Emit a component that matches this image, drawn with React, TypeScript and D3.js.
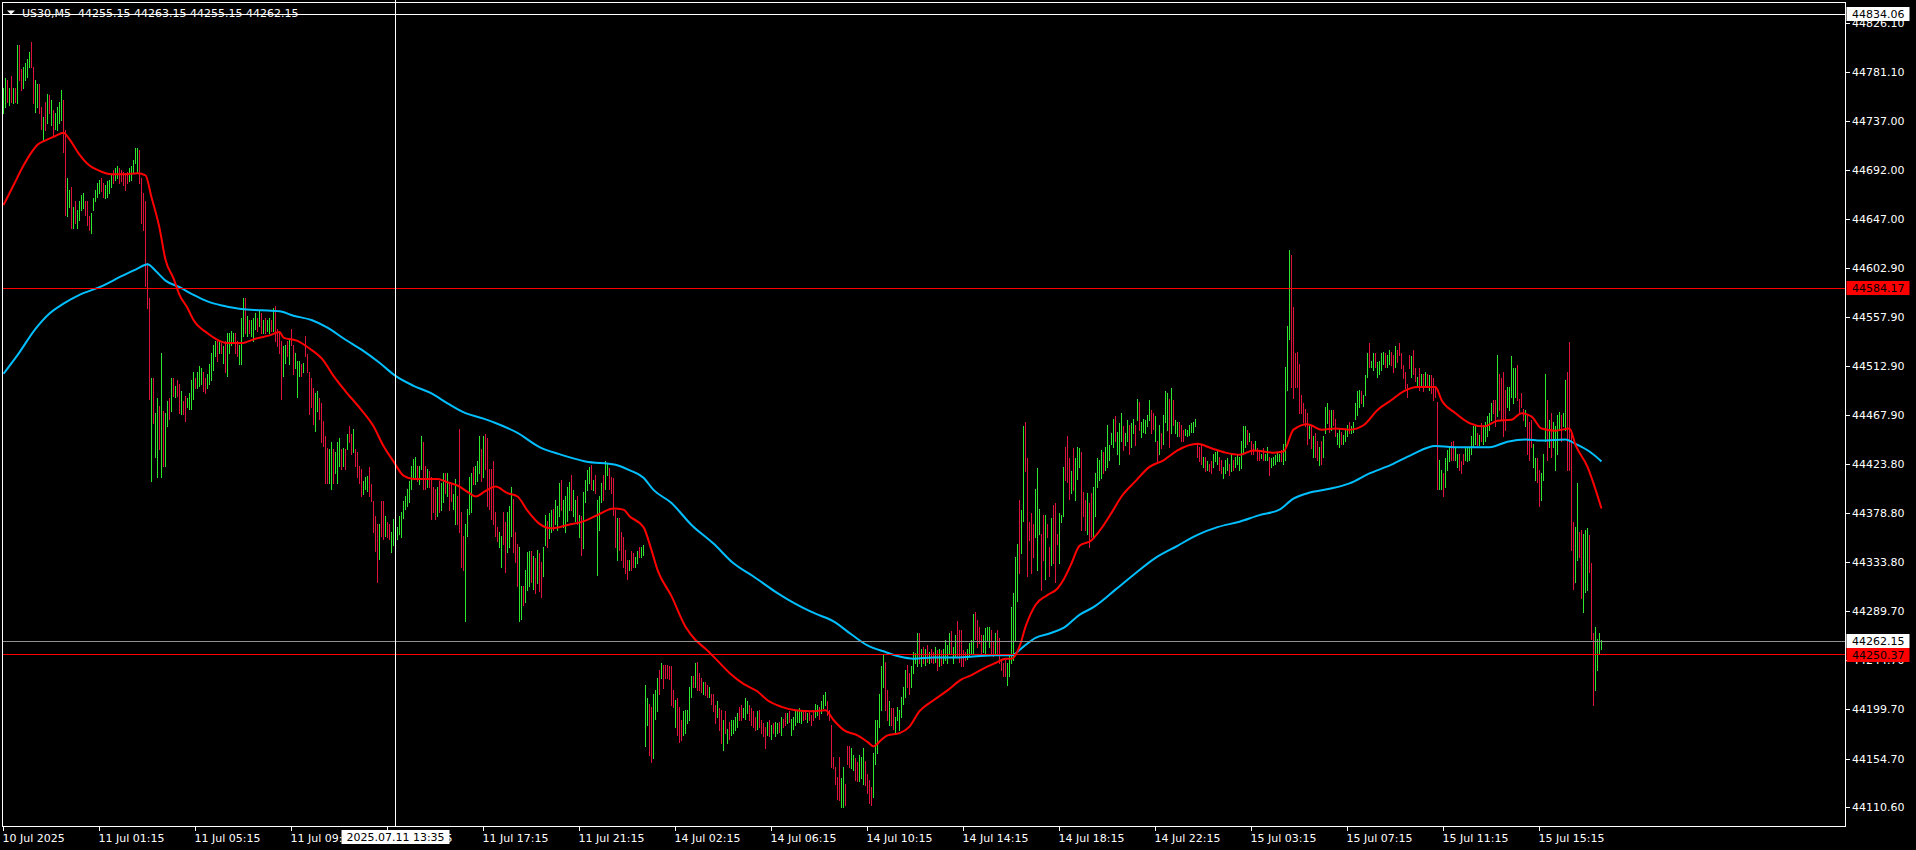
import React from 'react';
import * as d3 from 'd3';

// ---- Bar data (US30, M5), one entry per bar ----
const highs = [
44767,44776,44774,44767,44778,44767,44767,44806,44806,44784,
44786,44790,44793,44800,44809,44786,44774,44770,44770,44749,
44740,44754,44761,44760,44756,44747,44744,44749,44754,44765,
44756,44728,44685,44674,44676,44658,44664,44655,44664,44669,
44671,44664,44664,44650,44653,44666,44674,44680,44683,44685,
44680,44678,44682,44683,44687,44692,44694,44696,44694,44692,
44690,44689,44690,44694,44696,44701,44712,44712,44710,44685,
44671,44664,44607,44575,44502,44502,44470,44484,44477,44525,
44472,44470,44481,44484,44502,44502,44495,44500,44497,44490,
44481,44486,44484,44488,44500,44508,44502,44508,44513,44511,
44508,44502,44506,44515,44525,44532,44536,44536,44536,44534,
44531,44536,44543,44543,44545,44543,44543,44536,44532,44557,
44575,44575,44559,44555,44555,44557,44561,44557,44564,44561,
44555,44557,44555,44557,44555,44566,44568,44547,44543,44536,
44531,44532,44536,44538,44547,44532,44525,44518,44518,44515,
44516,44540,44524,44508,44502,44493,44488,44490,44484,44479,
44463,44449,44438,44437,44444,44437,44435,44444,44447,44437,
44438,44437,44451,44458,44451,44456,44437,44435,44422,44419,
44408,44412,44413,44421,44405,44390,44376,44369,44369,44390,
44390,44376,44371,44369,44362,44373,44371,44366,44376,44380,
44390,44394,44401,44408,44422,44428,44430,44422,44422,44449,
44444,44422,44419,44417,44412,44403,44401,44403,44408,44406,
44415,44415,44415,44405,44405,44396,44410,44394,44456,44380,
44358,44369,44383,44412,44415,44421,44422,44426,44449,44437,
44449,44451,44447,44419,44419,44426,44380,44366,44362,44358,
44380,44371,44380,44385,44403,44392,44362,44351,44348,44312,
44312,44327,44343,44344,44344,44340,44338,44345,44342,44334,
44348,44377,44372,44379,44382,44383,44391,44385,44406,44409,
44391,44394,44403,44407,44414,44400,44391,44394,44377,44376,
44398,44409,44418,44421,44423,44409,44414,44391,44394,44406,
44414,44426,44424,44420,44412,44411,44382,44374,44374,44362,
44357,44345,44336,44336,44344,44342,44339,44344,44348,44348,
44350,44222,44210,44205,44202,44214,44217,44228,44236,44242,
44240,44240,44240,44239,44239,44217,44208,44210,44202,44190,
44198,44199,44199,44220,44230,44230,44242,44243,44233,44228,
44225,44225,44222,44220,44214,44214,44204,44207,44201,44199,
44190,44198,44182,44188,44190,44190,44193,44196,44202,44204,
44201,44210,44207,44204,44201,44198,44193,44198,44199,44190,
44187,44184,44188,44190,44185,44187,44188,44187,44188,44193,
44191,44196,44196,44198,44191,44193,44198,44198,44201,44198,
44198,44199,44196,44198,44195,44199,44205,44204,44202,44207,
44213,44216,44207,44199,44185,44156,44147,44138,44156,44137,
44147,44132,44166,44166,44164,44158,44155,44152,44158,44156,
44164,44153,44141,44135,44129,44160,44190,44190,44214,44239,
44249,44243,44217,44207,44201,44201,44193,44202,44199,44211,
44220,44236,44240,44233,44239,44252,44251,44269,44269,44255,
44257,44255,44258,44252,44255,44252,44257,44254,44255,44254,
44255,44263,44258,44269,44271,44257,44268,44280,44272,44272,
44254,44252,44255,44260,44263,44287,44289,44281,44275,44268,
44268,44274,44275,44275,44272,44261,44269,44272,44265,44245,
44242,44245,44242,44248,44293,44306,44339,44351,44391,44382,
44458,44462,44429,44371,44379,44369,44401,44420,44383,44360,
44377,44377,44369,44348,44374,44386,44388,44360,44379,44377,
44421,44439,44449,44429,44417,44438,44429,44439,44438,44435,
44398,44391,44397,44388,44397,44403,44415,44429,44427,44436,
44435,44439,44459,44441,44452,44465,44467,44453,44461,44470,
44458,44452,44464,44459,44461,44465,44459,44483,44480,44462,
44465,44464,44468,44482,44473,44470,44467,44445,44459,44452,
44468,44490,44488,44483,44493,44482,44464,44462,44462,44459,
44455,44456,44455,44459,44461,44462,44465,44442,44439,44441,
44430,44430,44426,44424,44426,44433,44435,44436,44430,44427,
44421,44427,44429,44424,44433,44427,44430,44433,44430,44445,
44458,44458,44455,44452,44445,44442,44445,44438,44436,44433,
44438,44433,44439,44430,44429,44430,44432,44435,44433,44436,
44442,44512,44550,44619,44614,44567,44525,44526,44515,44487,
44479,44474,44470,44459,44458,44449,44452,44445,44439,44445,
44449,44476,44479,44473,44473,44473,44465,44452,44456,44453,
44450,44456,44459,44462,44458,44462,44479,44490,44491,44490,
44487,44505,44525,44534,44518,44525,44525,44517,44518,44525,
44526,44525,44523,44528,44526,44523,44531,44528,44534,44525,
44514,44508,44497,44523,44522,44528,44511,44503,44511,44506,
44506,44508,44506,44505,44505,44502,44494,44480,44427,44418,
44415,44429,44436,44438,44444,44445,44438,44433,44433,44426,
44433,44439,44438,44438,44449,44458,44458,44452,44450,44461,
44459,44462,44467,44470,44479,44482,44482,44523,44506,44502,
44508,44491,44494,44494,44522,44511,44511,44514,44483,44488,
44474,44473,44468,44462,44464,44442,44429,44429,44418,44415,
44433,44506,44482,44464,44470,44462,44458,44468,44471,44468,
44470,44500,44508,44535,44455,44371,44366,44406,44362,44363,
44360,44363,44365,44359,44333,44269,44275,44264,44269,44263.15,
];

const lows = [
44744,44749,44754,44751,44754,44753,44754,44753,44774,44765,
44767,44774,44777,44786,44786,44753,44745,44749,44744,44729,
44719,44728,44735,44744,44733,44724,44729,44728,44735,44738,
44708,44651,44650,44658,44639,44639,44644,44639,44646,44655,
44657,44651,44642,44637,44634,44655,44664,44667,44671,44673,
44667,44666,44667,44671,44676,44680,44683,44685,44680,44682,
44678,44674,44680,44682,44683,44689,44698,44689,44680,44644,
44637,44586,44566,44483,44408,44461,44430,44412,44437,44412,
44422,44422,44458,44465,44472,44486,44485,44486,44470,44469,
44469,44463,44476,44474,44474,44483,44493,44493,44495,44497,
44490,44488,44493,44497,44500,44509,44522,44518,44525,44525,
44516,44508,44504,44525,44532,44536,44525,44522,44515,44515,
44540,44543,44540,44543,44540,44536,44547,44545,44550,44543,
44543,44543,44545,44543,44545,44545,44536,44531,44525,44483,
44504,44516,44522,44515,44532,44506,44511,44485,44504,44504,
44508,44522,44508,44469,44476,44460,44454,44472,44465,44444,
44440,44406,44406,44406,44401,44406,44415,44406,44422,44419,
44422,44419,44437,44444,44433,44435,44422,44412,44406,44394,
44396,44401,44399,44394,44390,44362,44344,44316,44337,44358,
44355,44358,44357,44355,44343,44350,44334,44355,44360,44357,
44374,44383,44385,44389,44401,44410,44412,44408,44405,44419,
44401,44401,44403,44403,44373,44380,44373,44376,44380,44382,
44389,44397,44394,44382,44390,44383,44369,44369,44362,44330,
44327,44280,44358,44378,44380,44405,44405,44408,44415,44408,
44412,44419,44385,44383,44373,44369,44358,44353,44348,44330,
44351,44325,44343,44348,44358,44343,44334,44312,44280,44282,
44295,44298,44309,44312,44316,44310,44306,44315,44308,44302,
44321,44350,44348,44356,44362,44363,44369,44363,44376,44382,
44366,44362,44372,44382,44382,44376,44372,44369,44357,44341,
44347,44389,44400,44406,44401,44400,44397,44322,44363,44389,
44391,44401,44414,44401,44397,44377,44348,44336,44345,44336,
44330,44324,44319,44327,44327,44330,44330,44333,44339,44339,
44341,44166,44185,44158,44152,44155,44191,44198,44214,44228,
44219,44228,44228,44227,44204,44202,44184,44176,44170,44172,
44176,44178,44187,44190,44211,44220,44220,44217,44217,44216,
44214,44213,44211,44211,44205,44198,44187,44193,44181,44169,
44163,44178,44169,44173,44176,44178,44181,44184,44190,44190,
44193,44191,44196,44190,44185,44184,44181,44182,44184,44178,
44175,44164,44176,44175,44173,44178,44175,44178,44179,44176,
44184,44185,44187,44188,44176,44182,44185,44188,44188,44187,
44190,44191,44188,44190,44185,44190,44193,44195,44191,44196,
44201,44204,44195,44190,44147,44146,44132,44118,44117,44111,
44111,44112,44150,44147,44146,44144,44135,44134,44134,44137,
44132,44131,44123,44114,44112,44120,44150,44160,44184,44199,
44220,44199,44190,44185,44185,44182,44178,44190,44181,44193,
44205,44211,44220,44214,44220,44233,44242,44239,44242,44239,
44242,44240,44243,44242,44243,44242,44243,44236,44239,44240,
44242,44245,44242,44251,44251,44242,44248,44248,44243,44239,
44239,44245,44246,44249,44251,44251,44264,44257,44260,44251,
44252,44251,44263,44257,44251,44248,44251,44251,44242,44236,
44230,44230,44222,44230,44242,44245,44263,44299,44324,44342,
44372,44417,44321,44354,44324,44339,44357,44327,44360,44309,
44336,44319,44357,44321,44331,44333,44316,44351,44333,44371,
44376,44409,44407,44392,44397,44400,44391,44410,44421,44363,
44376,44363,44360,44348,44357,44357,44376,44403,44409,44411,
44415,44418,44421,44427,44442,44439,44445,44433,44424,44445,
44436,44441,44445,44433,44439,44452,44441,44464,44455,44448,
44453,44452,44458,44464,44452,44456,44445,44426,44433,44438,
44442,44462,44455,44439,44452,44459,44452,44449,44449,44445,
44445,44450,44449,44450,44453,44453,44458,44430,44426,44424,
44421,44417,44418,44417,44415,44421,44426,44424,44418,44415,
44411,44415,44418,44414,44417,44418,44421,44424,44418,44420,
44433,44439,44442,44445,44433,44433,44436,44427,44427,44429,
44427,44427,44427,44414,44421,44423,44424,44426,44426,44426,
44424,44427,44491,44538,44494,44484,44494,44494,44470,44470,
44462,44458,44442,44447,44438,44430,44430,44427,44423,44424,
44430,44452,44461,44453,44455,44459,44449,44442,44439,44442,
44442,44445,44449,44452,44452,44453,44465,44468,44476,44479,
44477,44487,44503,44512,44512,44509,44512,44503,44506,44509,
44515,44512,44512,44515,44514,44508,44512,44517,44523,44511,
44502,44493,44485,44511,44503,44506,44499,44494,44491,44496,
44490,44496,44494,44491,44488,44482,44485,44401,44401,44401,
44394,44403,44418,44426,44427,44427,44427,44421,44418,44415,
44424,44427,44426,44427,44433,44439,44442,44441,44441,44445,
44442,44445,44449,44455,44464,44470,44458,44467,44473,44465,
44449,44455,44476,44473,44485,44479,44485,44482,44470,44476,
44464,44458,44433,44427,44439,44421,44409,44407,44385,44391,
44409,44445,44427,44439,44430,44439,44418,44433,44455,44445,
44458,44455,44418,44418,44345,44310,44316,44336,44339,44301,
44289,44307,44309,44325,44264,44204,44217,44236,44251,44255.15,
];

// 1 = bullish bar (close >= open), 0 = bearish bar
const ups = [
1,1,0,1,0,1,0,1,0,0, 1,1,1,1,0,0,1,1,0,0, 1,0,1,0,1,0,1,1,1,1, 0,0,1,1,0,1,0,1,1,1,
1,0,0,0,1,1,1,1,1,0, 0,1,1,1,1,0,1,1,0,0, 0,0,0,1,1,1,1,1,0,0, 0,0,0,0,1,0,1,1,0,1,
0,1,1,0,1,0,1,0,0,1, 0,0,1,1,1,1,0,1,1,1, 0,0,1,1,1,1,1,0,1,0, 1,0,1,1,1,1,0,0,1,1,
1,0,1,0,1,1,1,0,1,0, 1,0,1,1,0,1,0,0,0,0, 1,1,0,1,0,0,1,1,1,0, 1,0,0,0,0,0,1,1,0,0,
0,0,0,1,1,0,1,1,1,0, 1,0,1,0,0,1,0,0,0,0, 1,1,1,0,0,0,0,0,1,0, 0,1,0,0,1,1,0,1,1,1,
1,1,1,1,1,1,1,0,1,1, 0,0,1,0,0,0,0,1,0,1, 1,0,1,0,0,1,1,0,0,0, 0,1,1,1,1,0,1,1,1,0,
1,0,0,0,0,0,0,0,1,1, 0,0,1,1,1,0,0,0,1,1, 0,1,1,1,0,1,0,1,0,0, 1,1,0,1,1,0,1,1,1,0,
1,1,1,1,0,1,1,0,1,0, 1,1,1,1,0,1,0,1,1,1, 0,1,1,0,0,0,0,1,0,0, 0,0,0,1,0,0,1,1,0,1,
1,1,1,0,0,1,1,1,0,1, 0,0,0,0,0,0,1,0,0,0, 1,1,1,1,1,0,1,0,0,0, 1,0,0,1,0,0,0,1,0,0,
1,0,1,0,1,1,1,1,0,0, 1,1,1,0,0,0,0,1,0,0, 0,0,1,0,1,0,1,1,0,1, 0,0,1,0,1,1,1,1,1,1,
0,0,1,0,0,0,1,1,0,1, 1,1,0,0,0,0,0,0,0,1, 1,0,0,0,1,1,0,0,1,1, 1,0,0,0,0,1,1,1,1,1,
1,0,0,1,0,0,1,1,1,1, 1,1,0,0,1,1,1,1,0,1, 0,1,0,1,0,0,1,0,1,0, 1,1,1,1,0,1,1,0,0,0,
0,0,1,1,1,1,0,0,0,0, 1,1,1,1,0,0,1,0,0,0, 0,0,1,1,1,1,1,1,0,1, 1,0,0,0,0,0,1,1,1,0,
0,1,0,0,1,0,0,0,1,1, 1,0,0,0,1,0,1,1,1,0, 0,0,1,0,0,1,1,1,1,1, 0,1,1,1,1,1,0,1,1,1,
0,1,1,0,1,1,0,1,0,1, 1,1,1,1,0,0,1,0,1,0, 1,1,1,0,1,0,1,1,0,0, 0,1,1,1,1,1,1,0,0,0,
1,0,1,0,0,1,1,1,0,0, 1,1,1,0,1,0,1,1,1,1, 1,1,0,1,0,0,1,0,0,1, 0,1,1,0,1,1,1,1,1,0,
1,1,1,1,0,0,0,0,0,0, 0,0,0,1,0,1,0,0,1,0, 1,1,1,0,1,0,0,1,1,0, 1,1,1,0,1,1,1,1,1,0,
1,1,1,0,1,1,0,1,1,1, 1,0,1,1,0,0,1,0,0,0, 0,0,0,0,1,0,0,1,0,1, 0,1,0,1,0,0,0,0,1,1,
0,1,1,1,0,0,1,1,0,0, 0,1,1,1,1,1,1,0,1,0, 1,1,1,1,1,0,0,1,0,0, 0,0,1,1,1,1,1,0,0,0,
0,1,0,0,0,1,1,0,0,1, 1,1,0,1,0,1,1,1,1,0, 1,1,0,0,0,0,1,1,0,0, 1,1,1,0,0,0,1,1,1,1,
];

// ---- Moving averages: [bar index, price] ----
const fastMA: [number, number][] = [
[0,44660],[5,44678],[10,44696],[14,44708],[17,44715],[21,44719],[26,44723],[30,44726],[33,44720],[38,44706],
[43,44696],[47,44692],[54,44688],[60,44688],[67,44689],[71,44687],[74,44667],[78,44639],[81,44610],[85,44593],
[88,44578],[92,44566],[95,44555],[102,44543],[107,44537],[112,44534],[119,44534],[126,44538],[133,44541],[138,44544],
[140,44539],[147,44536],[153,44529],[160,44518],[165,44504],[171,44490],[178,44475],[185,44458],[190,44440],[195,44426],
[200,44413],[205,44410],[212,44410],[217,44410],[222,44407],[227,44404],[233,44397],[236,44394],[241,44399],[246,44403],
[252,44397],[257,44394],[262,44381],[268,44369],[274,44365],[282,44368],[291,44372],[298,44378],[305,44383],[310,44382],
[313,44376],[320,44366],[324,44345],[327,44327],[334,44303],[341,44275],[346,44263],[351,44255],[356,44246],[363,44233],
[370,44223],[377,44216],[382,44208],[389,44202],[396,44199],[404,44198],[411,44199],[415,44190],[420,44181],[427,44176],
[432,44170],[435,44166],[439,44172],[442,44176],[448,44178],[453,44184],[458,44198],[465,44208],[472,44217],[479,44227],
[484,44231],[489,44236],[496,44242],[501,44246],[504,44246],[508,44257],[511,44275],[516,44295],[522,44304],[527,44310],
[530,44318],[534,44333],[538,44349],[544,44354],[549,44365],[554,44379],[559,44394],[566,44408],[573,44421],[580,44427],
[587,44436],[597,44442],[604,44438],[611,44434],[618,44432],[625,44436],[635,44434],[640,44435],[645,44455],[652,44460],
[659,44455],[666,44456],[673,44455],[680,44459],[687,44473],[694,44482],[700,44490],[707,44494],[716,44494],[719,44482],
[726,44470],[733,44461],[740,44458],[747,44463],[754,44464],[759,44470],[764,44467],[769,44456],[776,44454],[783,44456],
[786,44441],[792,44421],[795,44406],[799,44383],
];

const slowMA: [number, number][] = [
[0,44506],[7,44523],[16,44547],[23,44561],[30,44570],[38,44578],[48,44585],[59,44595],[67,44602],[72,44606],
[76,44600],[81,44591],[88,44585],[95,44578],[102,44572],[110,44568],[119,44565],[129,44564],[138,44563],[145,44559],
[154,44555],[162,44548],[171,44537],[179,44528],[188,44516],[196,44504],[205,44495],[214,44488],[222,44479],[231,44470],
[240,44465],[246,44461],[257,44452],[268,44439],[279,44432],[291,44426],[306,44423],[313,44418],[320,44411],[325,44400],
[334,44388],[344,44368],[355,44351],[365,44333],[375,44321],[386,44307],[396,44296],[406,44287],[415,44280],[424,44268],
[432,44258],[441,44252],[448,44248],[455,44246],[465,44247],[475,44247],[485,44248],[496,44249],[504,44249],[510,44257],
[516,44265],[523,44269],[530,44274],[538,44286],[545,44293],[556,44309],[566,44324],[576,44338],[587,44349],[597,44359],
[607,44366],[618,44371],[628,44377],[638,44382],[645,44392],[652,44397],[663,44401],[673,44406],[683,44415],[694,44423],
[704,44432],[716,44440],[725,44439],[735,44439],[743,44439],[752,44444],[761,44446],[769,44445],[781,44446],[786,44442],
[793,44435],[799,44426],
];

// ---- Axes ----
const priceTicks = [44826.10, 44781.10, 44737.00, 44692.00, 44647.00, 44602.90, 44557.90, 44512.90,
  44467.90, 44423.80, 44378.80, 44333.80, 44289.70, 44244.70, 44199.70, 44154.70, 44110.60];
const timeTickBars = [0, 48, 96, 144, 192, 240, 288, 336, 384, 432, 480, 528, 576, 624, 672, 720, 768];
const timeTickLabels = ['10 Jul 2025', '11 Jul 01:15', '11 Jul 05:15', '11 Jul 09:15', '11 Jul 13:15',
  '11 Jul 17:15', '11 Jul 21:15', '14 Jul 02:15', '14 Jul 06:15', '14 Jul 10:15', '14 Jul 14:15',
  '14 Jul 18:15', '14 Jul 22:15', '15 Jul 03:15', '15 Jul 07:15', '15 Jul 11:15', '15 Jul 15:15'];

const levelLines = [44584.17, 44250.37];
const bidPrice = 44262.15;
const crosshairBar = 196;
const crosshairPrice = 44834.06;
const crosshairTime = '2025.07.11 13:35';
const headerText = 'US30,M5  44255.15 44263.15 44255.15 44262.15';

const UP = '#2ee62e';
const DOWN = '#dc143c';
const FONT = "'DejaVu Sans', Verdana, sans-serif";

export default function App() {
  const W = 1916, H = 850;
  const L = 2.5, T = 2.5, R = 1845.5, B = 826.5;
  const x = d3.scaleLinear().domain([0, 799]).range([3, 1601]);
  const y = d3.scaleLinear().domain([44110.6, 44826.1]).range([807, 23]);
  const px = (i: number) => Math.round(x(i)) + 0.5;
  const py = (v: number) => Math.round(y(v)) + 0.5;

  const n = Math.min(highs.length, lows.length, ups.length);
  let upPath = '';
  let downPath = '';
  for (let i = 0; i < n; i++) {
    const xx = px(i);
    const y1 = Math.round(y(highs[i]));
    let y2 = Math.round(y(lows[i]));
    if (y2 - y1 < 1) y2 = y1 + 1;
    const seg = `M${xx},${y1}V${y2 + 1}`;
    if (ups[i]) upPath += seg; else downPath += seg;
  }

  const line = d3.line<[number, number]>()
    .x(d => x(d[0]) + 0.5)
    .y(d => y(d[1]))
    .curve(d3.curveMonotoneX);

  const cx = px(crosshairBar);
  const cy = py(crosshairPrice);
  const boxW = 63, boxH = 14, boxX = 1846.5;

  return (
    <svg width={W} height={H} viewBox={`0 0 ${W} ${H}`}
      style={{ position: 'fixed', left: 0, top: 0, display: 'block', background: '#000' }}>
      <rect x={0} y={0} width={W} height={H} fill="#000" />
      <defs>
        <clipPath id="plot">
          <rect x={L} y={T} width={R - L} height={B - T} />
        </clipPath>
      </defs>

      <g clipPath="url(#plot)">
        <path d={upPath} stroke={UP} strokeWidth={1} fill="none" shapeRendering="crispEdges" />
        <path d={downPath} stroke={DOWN} strokeWidth={1} fill="none" shapeRendering="crispEdges" />
        <path d={line(slowMA) || ''} stroke="#00bfff" strokeWidth={2} fill="none" />
        <path d={line(fastMA) || ''} stroke="#ff0000" strokeWidth={2} fill="none" />
        <line x1={L} x2={R} y1={py(bidPrice)} y2={py(bidPrice)} stroke="#909090" strokeWidth={1} shapeRendering="crispEdges" />
        {levelLines.map((v, k) => (
          <line key={k} x1={L} x2={R} y1={py(v)} y2={py(v)} stroke="#ff0000" strokeWidth={1} shapeRendering="crispEdges" />
        ))}
      </g>

      {/* crosshair */}
      <line x1={cx} x2={cx} y1={0} y2={B} stroke="#fff" strokeWidth={1} shapeRendering="crispEdges" />
      <line x1={L} x2={R} y1={cy} y2={cy} stroke="#fff" strokeWidth={1} shapeRendering="crispEdges" />

      {/* frame */}
      <rect x={L} y={T} width={R - L} height={B - T} fill="none" stroke="#fff" strokeWidth={1} shapeRendering="crispEdges" />

      {/* header */}
      <polygon points="7,10.5 15,10.5 11,14.5" fill="#fff" />
      <text x={22} y={16.7} fill="#fff" fontFamily={FONT} fontSize={11} style={{ whiteSpace: 'pre' }}>{headerText}</text>

      {/* price axis */}
      {priceTicks.map((v, k) => (
        <g key={k}>
          <line x1={R} x2={R + 4} y1={py(v)} y2={py(v)} stroke="#fff" strokeWidth={1} shapeRendering="crispEdges" />
          <text x={1852} y={y(v) + 4} fill="#fff" fontFamily={FONT} fontSize={11}>{v.toFixed(2)}</text>
        </g>
      ))}

      {/* price label boxes */}
      {[
        { v: crosshairPrice, bg: '#fff', dy: 0 },
        { v: levelLines[0], bg: '#ff0000', dy: 0 },
        { v: bidPrice, bg: '#fff', dy: 0 },
        { v: levelLines[1], bg: '#ff0000', dy: 1 },
      ].map((b, k) => (
        <g key={k}>
          <rect x={boxX} y={Math.round(y(b.v)) - 7 + b.dy} width={boxW} height={boxH} fill={b.bg} />
          <text x={1852} y={Math.round(y(b.v)) + 4 + b.dy} fill="#000" fontFamily={FONT} fontSize={11}>{b.v.toFixed(2)}</text>
        </g>
      ))}

      {/* time axis */}
      {timeTickBars.map((bi, k) => (
        <g key={k}>
          <line x1={px(bi)} x2={px(bi)} y1={B} y2={B + 4} stroke="#fff" strokeWidth={1} shapeRendering="crispEdges" />
          <text x={x(bi) - 0.5} y={842} fill="#fff" fontFamily={FONT} fontSize={11}>{timeTickLabels[k]}</text>
        </g>
      ))}

      {/* crosshair time label */}
      <rect x={cx - 54} y={830} width={108} height={14} fill="#fff" />
      <text x={cx} y={841} fill="#000" fontFamily={FONT} fontSize={11} textAnchor="middle">{crosshairTime}</text>
    </svg>
  );
}
